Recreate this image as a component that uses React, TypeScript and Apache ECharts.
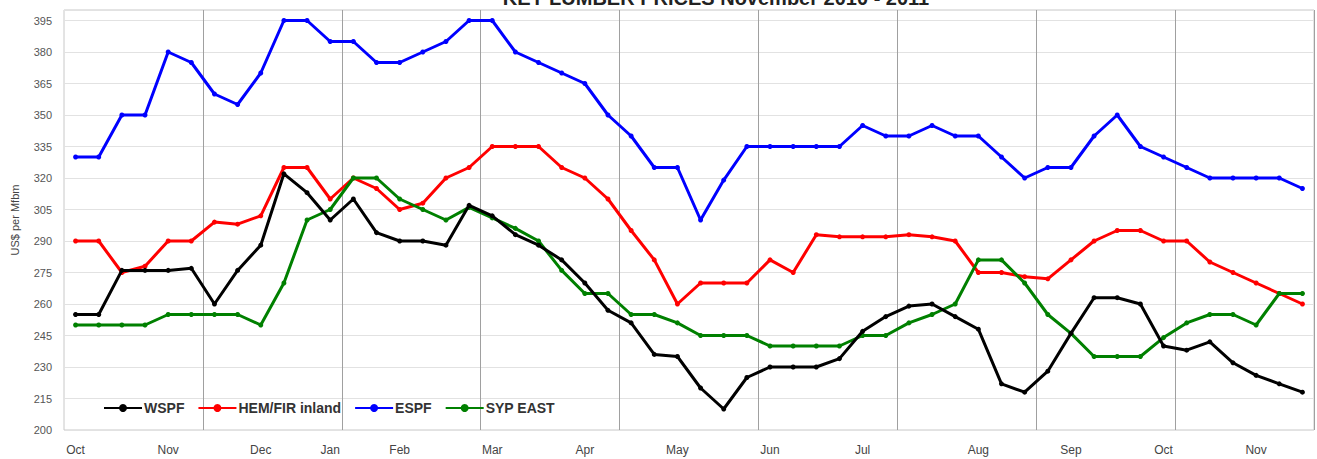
import React, { useEffect, useRef } from "react";
import * as echarts from "echarts";

// Month labels placed on the first week of each month (54 weekly points)
const weekLabels = [
  "Oct", "", "", "", "Nov", "", "", "", "Dec", "", "", "Jan", "", "",
  "Feb", "", "", "", "Mar", "", "", "", "Apr", "", "", "", "May", "",
  "", "", "Jun", "", "", "", "Jul", "", "", "", "", "Aug", "", "",
  "", "Sep", "", "", "", "Oct", "", "", "", "Nov", "", "",
];

const wspf = [
  255, 255, 276, 276, 276, 277, 260, 276, 288, 322, 313, 300, 310, 294,
  290, 290, 288, 307, 302, 293, 288, 281, 270, 257, 251, 236, 235, 220,
  210, 225, 230, 230, 230, 234, 247, 254, 259, 260, 254, 248, 222, 218,
  228, 246, 263, 263, 260, 240, 238, 242, 232, 226, 222, 218,
];

const hemFir = [
  290, 290, 275, 278, 290, 290, 299, 298, 302, 325, 325, 310, 320, 315,
  305, 308, 320, 325, 335, 335, 335, 325, 320, 310, 295, 281, 260, 270,
  270, 270, 281, 275, 293, 292, 292, 292, 293, 292, 290, 275, 275, 273,
  272, 281, 290, 295, 295, 290, 290, 280, 275, 270, 265, 260,
];

const espf = [
  330, 330, 350, 350, 380, 375, 360, 355, 370, 395, 395, 385, 385, 375,
  375, 380, 385, 395, 395, 380, 375, 370, 365, 350, 340, 325, 325, 300,
  319, 335, 335, 335, 335, 335, 345, 340, 340, 345, 340, 340, 330, 320,
  325, 325, 340, 350, 335, 330, 325, 320, 320, 320, 320, 315,
];

const sypEast = [
  250, 250, 250, 250, 255, 255, 255, 255, 250, 270, 300, 305, 320, 320,
  310, 305, 300, 306, 301, 296, 290, 276, 265, 265, 255, 255, 251, 245,
  245, 245, 240, 240, 240, 240, 245, 245, 251, 255, 260, 281, 281, 270,
  255, 246, 235, 235, 235, 244, 251, 255, 255, 250, 265, 265,
];

const seriesNames = ["WSPF", "HEM/FIR inland", "ESPF", "SYP EAST"];
const seriesColors = ["#000000", "#ff0000", "#0000ff", "#008000"];
const seriesData = [wspf, hemFir, espf, sypEast];

const titleText = "KEY LUMBER PRICES November 2010 - 2011";
const yAxisName = "US$ per Mfbm";

export default function App() {
  const ref = useRef<HTMLDivElement>(null);

  useEffect(() => {
    if (!ref.current) return;
    const chart = echarts.init(ref.current, null, { renderer: "svg" });
    const font = "'Liberation Sans', Arial, sans-serif";
    chart.setOption({
      animation: false,
      backgroundColor: "#ffffff",
      textStyle: { fontFamily: font },
      graphic: [
        {
          type: "text",
          x: 716,
          y: 8,
          style: {
            text: titleText,
            textAlign: "center",
            textVerticalAlign: "bottom",
            fontSize: 20,
            fontWeight: "bold",
            fontFamily: font,
            fill: "#222",
          },
        },
      ],
      grid: {
        left: 64,
        right: 3,
        top: 10,
        bottom: 29,
        show: true,
        borderColor: "#c8c8c8",
        borderWidth: 1,
        backgroundColor: "#ffffff",
      },
      legend: {
        left: 98,
        top: 396,
        itemWidth: 38,
        itemHeight: 10,
        itemGap: 13,
        textStyle: {
          fontSize: 14,
          fontWeight: "bold",
          color: "#333",
          fontFamily: font,
          padding: [0, 0, 0, -3],
        },
        data: seriesNames,
      },
      xAxis: {
        type: "category",
        boundaryGap: true,
        data: weekLabels.map((_, i) => String(i)),
        axisLine: { show: false },
        axisTick: { show: false },
        axisLabel: {
          interval: 0,
          margin: 14,
          fontSize: 12,
          color: "#444",
          formatter: (_v: string, i: number) => weekLabels[i],
        },
        splitLine: {
          show: true,
          interval: (i: number) => i > 0 && i < weekLabels.length && i % 6 === 0,
          lineStyle: { color: "#a0a0a0", width: 1 },
        },
      },
      yAxis: {
        type: "value",
        min: 200,
        max: 400,
        interval: 15,
        name: yAxisName,
        nameLocation: "middle",
        nameGap: 44,
        nameTextStyle: { fontSize: 11, color: "#444" },
        axisLine: { show: false },
        axisTick: { show: false },
        axisLabel: {
          showMaxLabel: false,
          fontSize: 11,
          color: "#555",
          margin: 12,
        },
        splitLine: { show: true, lineStyle: { color: "#e2e2e2", width: 1 } },
      },
      series: seriesNames.map((name, k) => ({
        name,
        type: "line",
        data: seriesData[k],
        symbol: "circle",
        symbolSize: 5,
        showSymbol: true,
        lineStyle: { width: 3, color: seriesColors[k] },
        itemStyle: { color: seriesColors[k] },
        z: 2 + (k === 0 ? 4 : k),
      })),
    });
    return () => chart.dispose();
  }, []);

  return (
    <div
      ref={ref}
      style={{ position: "absolute", left: 0, top: 0, width: 1317, height: 459 }}
    />
  );
}
